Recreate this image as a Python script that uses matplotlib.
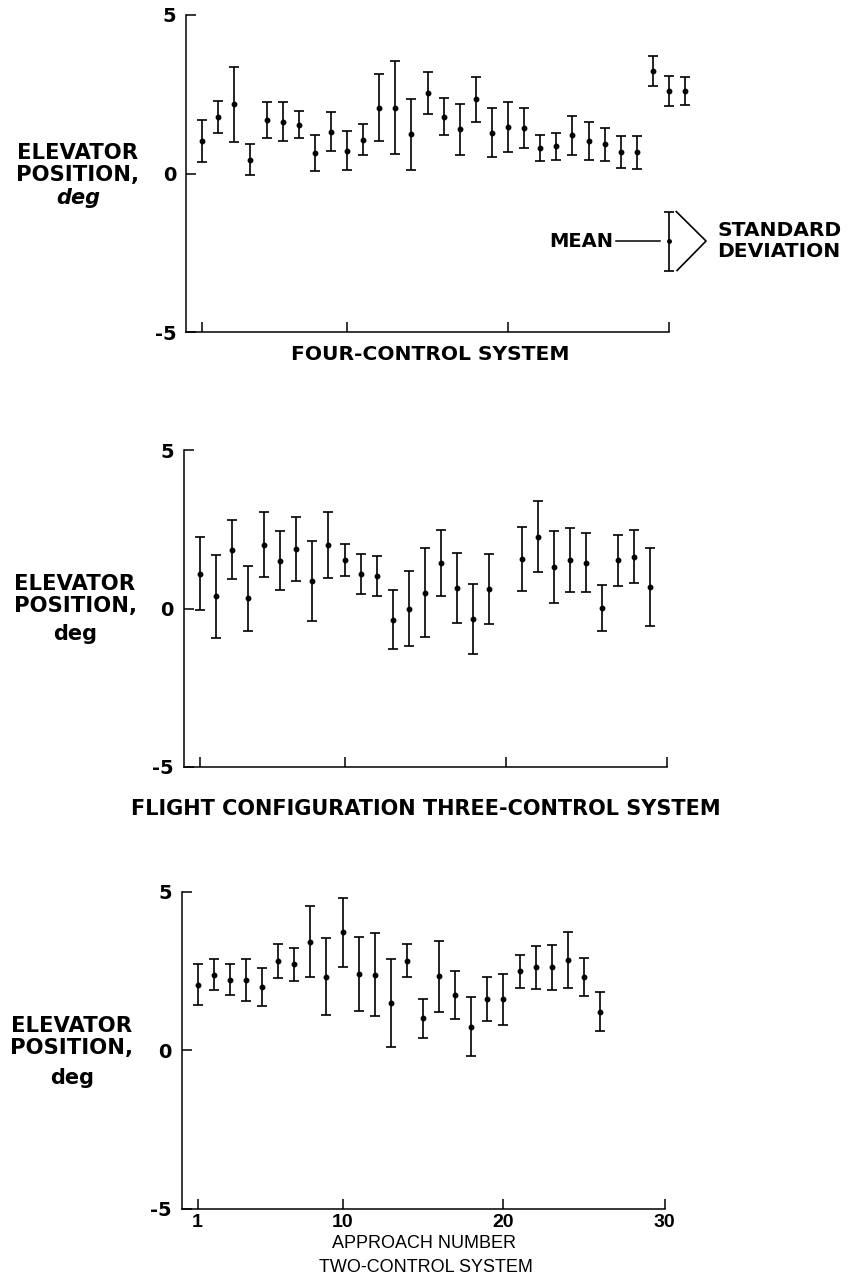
import numpy as np
import matplotlib.pyplot as plt

###############################################################################
# Data (mean and standard deviation, deg)

# four-control system, approaches 1-31
four_mean = [1.03, 1.79, 2.18, 0.44, 1.68, 1.63, 1.54, 0.65, 1.32, 0.72,
             1.07, 2.08, 2.08, 1.24, 2.55, 1.79, 1.39, 2.34, 1.29, 1.46,
             1.43, 0.82, 0.86, 1.20, 1.03, 0.93, 0.68, 0.67, 3.24, 2.60,
             2.60]
four_sd = [0.66, 0.51, 1.19, 0.49, 0.56, 0.62, 0.42, 0.58, 0.62, 0.61,
           0.48, 1.07, 1.48, 1.12, 0.66, 0.59, 0.81, 0.71, 0.78, 0.79,
           0.64, 0.41, 0.43, 0.62, 0.61, 0.52, 0.50, 0.52, 0.48, 0.46,
           0.44]

# three-control system, approaches 1-29 (no data for 20)
three_mean = [1.10, 0.38, 1.85, 0.32, 2.01, 1.50, 1.88, 0.87, 2.00, 1.53,
              1.09, 1.03, -0.36, 0.00, 0.50, 1.44, 0.64, -0.32, 0.62, None,
              1.56, 2.27, 1.30, 1.53, 1.45, 0.01, 1.52, 1.64, 0.68]
three_sd = [1.14, 1.32, 0.93, 1.03, 1.02, 0.93, 1.01, 1.25, 1.04, 0.51,
            0.62, 0.64, 0.93, 1.19, 1.41, 1.05, 1.11, 1.10, 1.11, None,
            1.01, 1.11, 1.14, 1.02, 0.93, 0.73, 0.81, 0.83, 1.22]

# two-control system, approaches 1-26
two_mean = [2.06, 2.37, 2.21, 2.20, 1.99, 2.80, 2.70, 3.42, 2.31, 3.71,
            2.40, 2.37, 1.47, 2.82, 1.00, 2.32, 1.73, 0.74, 1.60, 1.60,
            2.49, 2.61, 2.61, 2.84, 2.30, 1.21]
two_sd = [0.65, 0.49, 0.49, 0.67, 0.61, 0.53, 0.51, 1.11, 1.21, 1.10,
          1.18, 1.31, 1.39, 0.51, 0.61, 1.11, 0.75, 0.92, 0.69, 0.80,
          0.52, 0.68, 0.71, 0.88, 0.60, 0.61]

x_ticks = [1, 10, 20, 30]
y_ticks = [-5, 0, 5]
y_ticklabels = ['-5', '0', '5']

# key drawn in the top panel
key_x = 30
key_mean = -2.13
key_sd = 0.93

###############################################################################
# Plot

plt.rcParams['font.family'] = 'DejaVu Sans'
W, H = 850, 1285
fig = plt.figure(figsize=(W / 100, H / 100), dpi=100)

PX_PER_UNIT = 16.1
XMAX = 31.5
NARROW = ['Liberation Sans Narrow', 'Liberation Sans']


def add_panel(left_px, top_px, bottom_px, mean, sd):
    ax = fig.add_axes([left_px / W, 1 - bottom_px / H,
                       XMAX * PX_PER_UNIT / W, (bottom_px - top_px) / H])
    x = np.arange(1, len(mean) + 1)
    m = np.array([np.nan if v is None else v for v in mean])
    s = np.array([np.nan if v is None else v for v in sd])
    ok = ~np.isnan(m)
    ax.errorbar(x[ok], m[ok], yerr=s[ok], fmt='o', ms=3.2, color='black',
                ecolor='black', elinewidth=1.2, capsize=3.8, capthick=1.2,
                clip_on=False)
    ax.set_xlim(0, XMAX)
    ax.set_ylim(-5, 5)
    for side in ['top', 'right']:
        ax.spines[side].set_visible(False)
    ax.spines['bottom'].set_bounds(0, 30)
    for side in ['left', 'bottom']:
        ax.spines[side].set_linewidth(1.1)
    ax.set_xticks(x_ticks)
    ax.set_yticks(y_ticks)
    ax.set_yticklabels(y_ticklabels, fontsize=14, fontweight='bold')
    ax.tick_params(direction='in', length=7, width=1.1, pad=7)
    return ax


def elevator_label(x_px, y_px, deg_y_px, italic):
    fig.text(x_px / W, 1 - y_px / H, 'ELEVATOR\nPOSITION,', ha='center',
             va='center', fontsize=15.2, fontweight='bold', linespacing=1.1)
    fig.text(x_px / W, 1 - deg_y_px / H, 'deg', ha='center', va='center',
             fontsize=15, fontweight='bold',
             style='italic' if italic else 'normal')


# Four-control system
ax1 = add_panel(186, 15, 332, four_mean, four_sd)
ax1.set_xticklabels([])
elevator_label(78, 164, 198, True)
fig.text(430 / W, 1 - 355 / H, 'FOUR-CONTROL SYSTEM', ha='center',
         va='center', fontsize=14.6, fontweight='bold')

# mean / standard deviation key
ax1.errorbar([key_x], [key_mean], yerr=[key_sd], fmt='o', ms=2.5,
             color='black', elinewidth=1.2, capsize=3.8, capthick=1.2,
             clip_on=False)
ax1.plot([key_x - 3.3, key_x - 0.55], [key_mean, key_mean], color='black',
         lw=1.1, clip_on=False)
ax1.plot([key_x + 0.45, key_x + 2.3, key_x + 0.5],
         [key_mean + key_sd, key_mean, key_mean - key_sd], color='black',
         lw=1.2, clip_on=False)
ax1.text(key_x - 3.45, key_mean, 'MEAN', ha='right', va='center',
         fontsize=14, fontweight='bold')
ax1.text(key_x + 3.0, key_mean, 'STANDARD\nDEVIATION', ha='left',
         va='center', fontsize=14.6, fontweight='bold', linespacing=1.1)

# Three-control system
ax2 = add_panel(183.5, 450, 767, three_mean, three_sd)
ax2.set_xticklabels([])
elevator_label(75, 595, 634, False)
fig.text(426 / W, 1 - 809 / H, 'FLIGHT CONFIGURATION THREE-CONTROL SYSTEM',
         ha='center', va='center', fontsize=15, fontweight='bold')

# Two-control system
ax3 = add_panel(181.5, 891.5, 1208.5, two_mean, two_sd)
ax3.set_xticklabels([str(v) for v in x_ticks], fontsize=14,
                    fontweight='bold', family=NARROW)
ax3.tick_params(axis='x', pad=4)
elevator_label(72, 1037, 1078, False)
fig.text(424 / W, 1 - 1244 / H, 'APPROACH NUMBER', ha='center', va='center',
         fontsize=13, family=NARROW)
fig.text(426 / W, 1 - 1268 / H, 'TWO-CONTROL SYSTEM', ha='center',
         va='center', fontsize=13, family=NARROW)

fig.savefig('out.png', dpi=100)
